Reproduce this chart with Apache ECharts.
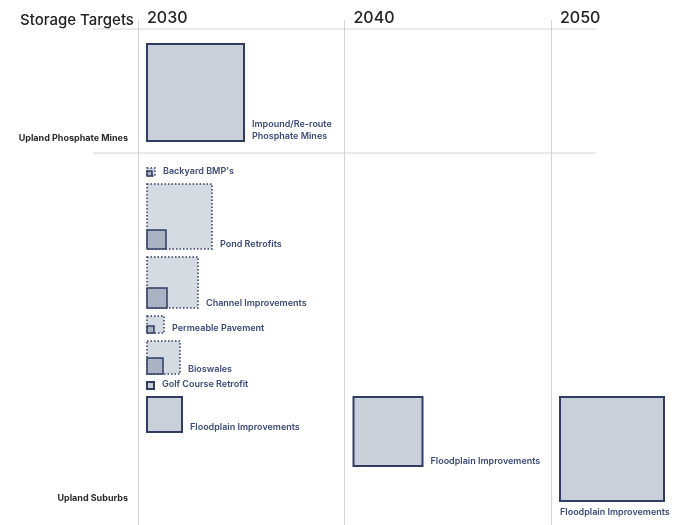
<!DOCTYPE html>
<html>
<head>
<meta charset="utf-8">
<script src="https://cdn.jsdelivr.net/npm/echarts@6/dist/echarts.min.js"></script>
<style>
  html, body { margin: 0; background: #fff; }
  #chart { width: 686px; height: 525px; }
</style>
</head>
<body>
<div id="chart"></div>
<script>
  // 年份（列）
  const years = [2030, 2040, 2050]
  // 区域（行）
  const regions = ['Upland Phosphate Mines', 'Upland Suburbs']
  // 储水措施，按绘制顺序，以及所属区域
  const measures = [
    'Impound/Re-route\nPhosphate Mines',
    "Backyard BMP's",
    'Pond Retrofits',
    'Channel Improvements',
    'Permeable Pavement',
    'Bioswales',
    'Golf Course Retrofit',
    'Floodplain Improvements'
  ]
  const measureRegion = [0, 1, 1, 1, 1, 1, 1, 1]
  // 方块边长：实线为目标，虚线为潜力
  const target2030 = [97, 5, 19, 20, 7, 16, 7, 35]
  const potential2030 = [0, 8, 65, 51, 17, 33, 0, 0]
  const target2040 = [0, 0, 0, 0, 0, 0, 0, 69]
  const target2050 = [0, 0, 0, 0, 0, 0, 0, 104]

  const targets = [target2030, target2040, target2050]
  const potentials = [potential2030, target2040.map(() => 0), target2050.map(() => 0)]

  const NAVY = '#2f3d62'
  const TEXT = '#3b4a78'

  // 计算每行位置（纵轴单位）
  const LINE_Y = 9
  const PAD_TOP = 15
  const PAD_BOTTOM = 12
  const GAP = 8
  const measureSize = measures.map((_, m) =>
    Math.max(...years.map((_, i) => Math.max(targets[i][m], potentials[i][m])))
  )
  const measureTop = []
  const regionTop = []
  const regionBottom = []
  let cursor = LINE_Y
  regions.forEach((_, r) => {
    regionTop[r] = cursor
    cursor += PAD_TOP
    measures.forEach((_, m) => {
      if (measureRegion[m] !== r) return
      measureTop[m] = cursor
      cursor += measureSize[m] + GAP
    })
    cursor -= GAP
    regionBottom[r] = cursor
    cursor += PAD_BOTTOM
  })

  // 方块数据
  const squareData = []
  years.forEach((year, i) => {
    measures.forEach((_, m) => {
      if (targets[i][m] > 0) squareData.push([year, measureTop[m], targets[i][m], potentials[i][m], m])
    })
  })
  const regionData = regions.map((_, r) => [years[0], regionTop[r], regionBottom[r], r])

  const chart = echarts.init(document.getElementById('chart'))

  const renderSquare = (params, api) => {
    const year = api.value(0)
    const m = api.value(4)
    const x = api.coord([year, 0])[0] + 9
    const top = api.coord([year, api.value(1)])[1]
    const s = api.size([0, api.value(2)])[1]
    const p = api.size([0, api.value(3)])[1]
    const outer = Math.max(s, p)
    const bottom = top + outer
    const children = []
    if (p > 0) {
      children.push({
        type: 'rect',
        shape: { x, y: top, width: p, height: p },
        style: { fill: '#d5dbe3', stroke: NAVY, lineWidth: 1.5, lineDash: [1.5, 2] }
      })
    }
    children.push({
      type: 'rect',
      shape: { x, y: bottom - s, width: s, height: s },
      style: { fill: p > 0 ? '#a9b3c4' : '#c9d0da', stroke: NAVY, lineWidth: p > 0 ? 1.5 : 2 }
    })
    // 标签：右侧放不下时放在下方
    let tx = x + outer + 8
    let ty = bottom + 1
    let va = 'bottom'
    if (tx + 120 > api.getWidth()) {
      tx = x
      ty = bottom + 5
      va = 'top'
    }
    children.push({
      type: 'text',
      style: {
        x: tx,
        y: ty,
        text: measures[m],
        fill: TEXT,
        font: '600 9px Inter',
        lineHeight: 12,
        verticalAlign: va,
        align: 'left'
      }
    })
    return { type: 'group', children }
  }

  const renderRegion = (params, api) => {
    const r = api.value(3)
    const x0 = api.coord([years[0], 0])[0]
    const x1 = api.coord([years[years.length - 1], 0])[0]
    const yTop = api.coord([years[0], api.value(1)])[1]
    const yBottom = api.coord([years[0], api.value(2)])[1]
    return {
      type: 'group',
      children: [
        {
          type: 'line',
          shape: { x1: x0 - 45, y1: yTop, x2: x1 + 45, y2: yTop },
          style: { stroke: '#d4d4d4', lineWidth: 1 }
        },
        {
          type: 'text',
          style: {
            x: x0 - 10,
            y: yBottom - 3,
            text: regions[r],
            fill: '#2b2b2b',
            font: 'bold 9px Inter',
            align: 'right',
            verticalAlign: 'middle'
          }
        }
      ]
    }
  }

  chart.setOption({
    animation: false,
    title: {
      text: 'Storage Targets',
      left: 15,
      top: 8,
      textStyle: { fontFamily: 'Inter', fontSize: 15, fontWeight: 500, color: '#222' }
    },
    grid: { left: 138, right: 135, top: 20, bottom: 0 },
    xAxis: {
      type: 'value',
      position: 'top',
      min: 2030,
      max: 2050,
      interval: 10,
      axisLine: { show: false },
      axisTick: { show: false },
      splitLine: { show: true, lineStyle: { color: '#d4d4d4', width: 1 } },
      axisLabel: {
        fontFamily: 'Inter',
        fontSize: 16,
        fontWeight: 500,
        color: '#222',
        align: 'left',
        verticalAlign: 'middle',
        margin: 2,
        padding: [0, 0, 0, 9],
        formatter: v => String(v)
      }
    },
    yAxis: {
      type: 'value',
      inverse: true,
      min: 0,
      max: 505,
      show: false
    },
    series: [
      {
        type: 'custom',
        clip: false,
        renderItem: renderRegion,
        data: regionData
      },
      {
        type: 'custom',
        clip: false,
        renderItem: renderSquare,
        data: squareData
      }
    ]
  })
</script>
</body>
</html>
